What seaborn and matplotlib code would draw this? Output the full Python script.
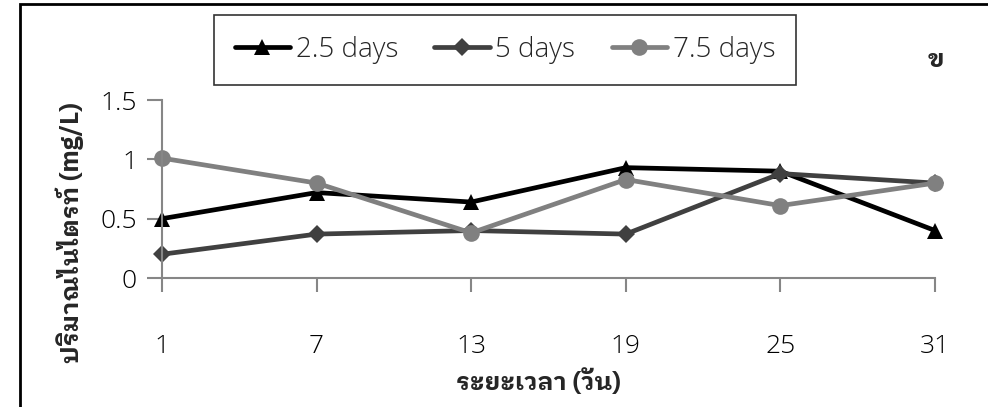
import matplotlib
matplotlib.use("Agg")
import matplotlib.pyplot as plt
from matplotlib import font_manager as fm
import seaborn as sns
import pandas as pd

days = [1, 7, 13, 19, 25, 31]
series_names = ["2.5 days", "5 days", "7.5 days"]
s_25 = [0.50, 0.72, 0.64, 0.93, 0.90, 0.40]
s_5 = [0.20, 0.37, 0.40, 0.37, 0.88, 0.80]
s_75 = [1.01, 0.80, 0.38, 0.83, 0.61, 0.80]
y_ticks = [0, 0.5, 1, 1.5]
y_tick_labels = ["0", "0.5", "1", "1.5"]
x_label = "ระยะเวลา (วัน)"
y_label = "ปริมาณไนไตรท์ (mg/L)"
panel_label = "ข"

# register fonts having Thai glyphs
found = []
try:
    from fontTools.ttLib import TTFont
    for path in fm.findSystemFonts():
        try:
            tt = TTFont(path, fontNumber=0, lazy=True)
            cmap = tt.getBestCmap()
            if cmap and 0x0E1B in cmap and 0x0041 in cmap:
                fm.fontManager.addfont(path)
                found.append(fm.FontProperties(fname=path).get_name())
        except Exception:
            pass
except Exception:
    pass
thai_family = "DejaVu Sans"
for pref in ["IBM Plex Sans Thai Looped", "IBM Plex Sans Thai", "Kanit", "KoHo"]:
    if pref in found:
        thai_family = pref
        break

sns.set_theme(style="white")
plt.rcParams["font.family"] = ["Open Sans", "DejaVu Sans"]

df = pd.DataFrame({
    "day": days * 3,
    "value": s_25 + s_5 + s_75,
    "series": [series_names[0]] * 6 + [series_names[1]] * 6 + [series_names[2]] * 6,
})

fig = plt.figure(figsize=(9.88, 4.07), dpi=100)
ax = fig.add_axes([162 / 988, 1 - 278 / 407, (935 - 162) / 988, (278 - 100) / 407])

palette = {series_names[0]: "#000000", series_names[1]: "#404040", series_names[2]: "#808080"}
markers = {series_names[0]: "^", series_names[1]: "D", series_names[2]: "o"}
sizes_m = {series_names[0]: 11, series_names[1]: 9, series_names[2]: 12}

for name in series_names:
    sub = df[df["series"] == name]
    sns.lineplot(data=sub, x="day", y="value", color=palette[name], marker=markers[name],
                 markersize=sizes_m[name], markeredgewidth=0, linewidth=3.4, ax=ax,
                 label=name, clip_on=False)

ax.set_xlim(1, 31)
ax.set_ylim(0, 1.5)
ax.set_xticks(days)
ax.set_xticklabels([str(d) for d in days])
ax.set_yticks(y_ticks)
ax.set_yticklabels(y_tick_labels)
for s in ["top", "right"]:
    ax.spines[s].set_visible(False)
for s in ["left", "bottom"]:
    ax.spines[s].set_color("#868686")
    ax.spines[s].set_linewidth(1.5)
ax.tick_params(axis="x", direction="out", length=10, width=1.5, color="#868686", pad=30,
               labelsize=19, labelcolor="#000000")
ax.tick_params(axis="y", direction="out", length=11, width=1.5, color="#868686", pad=7,
               labelsize=19, labelcolor="#000000")
ax.tick_params(bottom=True, left=True)
for lab in ax.get_xticklabels() + ax.get_yticklabels():
    lab.set_fontweight("light")
ax.set_xlabel("")
ax.set_ylabel("")

fig.text(538 / 988, 1 - 382 / 407, x_label, ha="center", va="center", fontsize=18,
         fontweight="bold", family=[thai_family, "DejaVu Sans"])
fig.text(70 / 988, 1 - 233 / 407, y_label, ha="center", va="center", rotation=90, fontsize=18,
         fontweight="bold", family=[thai_family, "DejaVu Sans"])
fig.text(936 / 988, 1 - 60 / 407, panel_label, ha="center", va="center", fontsize=18,
         fontweight="bold", family=[thai_family, "DejaVu Sans"])

leg = ax.legend(loc="center", ncol=3, frameon=True, handlelength=2.0,
                handletextpad=0.2, columnspacing=1.3, fancybox=False, borderpad=0.75,
                prop={"size": 20, "weight": "light"})
leg.set_bbox_to_anchor((505 / 988, 1 - 50 / 407), transform=fig.transFigure)
leg.get_frame().set_edgecolor("#000000")
leg.get_frame().set_linewidth(1.2)

# outer frame (partly cropped)
fig.patches.append(plt.Rectangle((20 / 988, -0.1), 1.2, 1 - 4 / 407 + 0.1, transform=fig.transFigure,
                                 fill=False, edgecolor="#000000", linewidth=2, clip_on=False))

fig.savefig("out.png", dpi=100)
